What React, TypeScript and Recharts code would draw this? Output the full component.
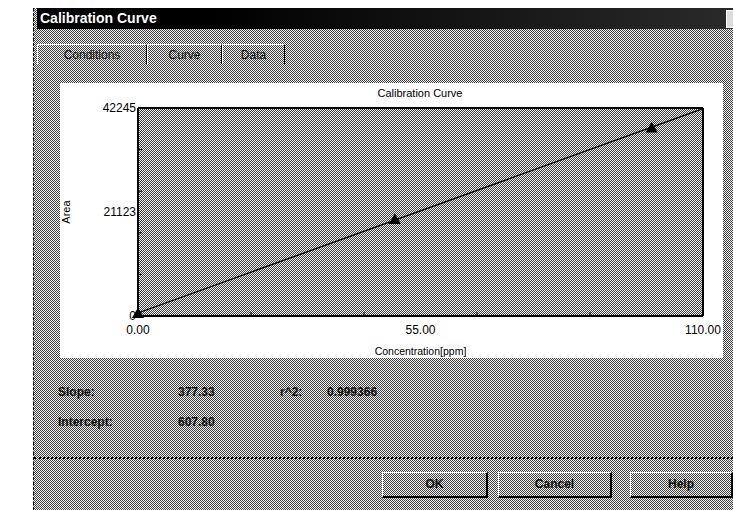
import { ComposedChart, Line, Scatter, XAxis, YAxis, CartesianGrid, Label } from "recharts";

const concentration = [0, 50, 100];
const area = [300, 19400, 38000];
const fitConcentration = [0, 110];
const fitArea = [608, 42114];

const xLabelTicks = [0, 55, 110];
const xMinorTicks = [0, 22, 44, 66, 88, 110];
const yLabelTicks = [0, 21123, 42245];
const yMinorTicks = [0, 8449, 16898, 25347, 33796, 42245];

const slope = "377.33";
const rSquared = "0.999366";
const intercept = "607.80";

const points = concentration.map((x, i) => ({ x, y: area[i] }));
const fit = fitConcentration.map((x, i) => ({ x, y: fitArea[i] }));
const xTicks = Array.from(new Set([...xMinorTicks, ...xLabelTicks])).sort((a, b) => a - b);
const yTicks = Array.from(new Set([...yMinorTicks, ...yLabelTicks])).sort((a, b) => a - b);

// scanned halftone look: diagonal dither, roughly 50% grey
const DITHER_PATH = "M0 0h1v1H0zM1 1h1v1H1zM2 2h1v1H2zM3 3h1v1H3zM2 0h1v1H2zM3 1h1v1H3zM0 2h1v1H0zM1 3h1v1H1z";
const DITHER =
  "url(\"data:image/svg+xml;utf8,<svg xmlns='http://www.w3.org/2000/svg' width='4' height='4'><path d='" +
  DITHER_PATH +
  "' fill='%23404040'/></svg>\")";

const CHART_FONT = "'Liberation Sans', Arial, sans-serif";
const DIALOG_FONT = "'Liberation Sans', Arial, sans-serif";
const X_MARGIN = 9;
const Y_MARGIN = 2;

function XTick(props: any) {
  const { x, y, payload } = props;
  const v = payload.value;
  const axisY = y - X_MARGIN;
  return (
    <g>
      {xMinorTicks.includes(v) && v !== 0 && v !== 110 && (
        <line x1={x} x2={x} y1={axisY} y2={axisY - 4} stroke="#000" />
      )}
      {xLabelTicks.includes(v) && (
        <text x={x} y={y} dy="0.71em" textAnchor="middle" fontSize={12} fontFamily={CHART_FONT} fill="#000">
          {v.toFixed(2)}
        </text>
      )}
    </g>
  );
}

function YTick(props: any) {
  const { x, y, payload } = props;
  const v = payload.value;
  const axisX = x + Y_MARGIN;
  return (
    <g>
      {yMinorTicks.includes(v) && v !== 0 && v !== 42245 && (
        <line x1={axisX} x2={axisX + 4} y1={y} y2={y} stroke="#000" />
      )}
      {yLabelTicks.includes(v) && (
        <text x={x} y={y} dy="0.355em" textAnchor="end" fontSize={12} fontFamily={CHART_FONT} fill="#000">
          {v}
        </text>
      )}
    </g>
  );
}

function Tab({ left, width, label }: { left: number; width: number; label: string }) {
  return (
    <div
      style={{
        position: "absolute",
        left,
        top: 44,
        width,
        height: 20,
        borderTop: "1px solid #fff",
        borderLeft: "1px solid #fff",
        borderRight: "1px solid #000",
        boxSizing: "border-box",
        textAlign: "center",
        fontFamily: DIALOG_FONT,
        fontSize: 12,
        lineHeight: "20px",
        color: "#111",
      }}
    >
      {label}
    </div>
  );
}

function Button({ left, width, label, isDefault }: { left: number; width: number; label: string; isDefault?: boolean }) {
  return (
    <div
      style={{
        position: "absolute",
        left,
        top: 472,
        width,
        height: 26,
        boxSizing: "border-box",
        border: isDefault ? "2px solid #000" : "none",
        borderTop: "1px solid #fff",
        borderLeft: "1px solid #fff",
        borderRight: "2px solid #000",
        borderBottom: "2px solid #000",
        textAlign: "center",
        fontFamily: DIALOG_FONT,
        fontWeight: "bold",
        fontSize: 12,
        lineHeight: "23px",
        color: "#111",
      }}
    >
      {label}
    </div>
  );
}

function Text({ left, top, children }: { left: number; top: number; children: string }) {
  return (
    <div
      style={{
        position: "absolute",
        left,
        top,
        fontFamily: DIALOG_FONT,
        fontWeight: "bold",
        fontSize: 12,
        lineHeight: "14px",
        color: "#111",
        whiteSpace: "nowrap",
      }}
    >
      {children}
    </div>
  );
}

export default function App() {
  return (
    <div style={{ position: "fixed", left: 0, top: 0, width: 733, height: 510, background: "#fff", overflow: "hidden" }}>
      {/* dialog body */}
      <div
        style={{
          position: "absolute",
          left: 33,
          top: 8,
          width: 700,
          height: 502,
          backgroundColor: "#f2f2f2",
          backgroundImage: DITHER,
          borderLeft: "1px dashed #000",
          boxSizing: "border-box",
        }}
      />
      {/* title bar */}
      <div
        style={{
          position: "absolute",
          left: 37,
          top: 8,
          width: 696,
          height: 21,
          background: "linear-gradient(90deg, #000 0%, #000 25%, #2a2a2a 100%)",
          color: "#fff",
          fontFamily: "'Liberation Sans Narrow', 'Liberation Sans', Arial, sans-serif",
          fontWeight: "bold",
          fontSize: 14,
          lineHeight: "21px",
          paddingLeft: 3,
          boxSizing: "border-box",
        }}
      >
        Calibration Curve
      </div>
      <div style={{ position: "absolute", left: 726, top: 10, width: 8, height: 16, background: "#ddd", border: "1px solid #fff" }} />

      <Tab left={37} width={110} label="Conditions" />
      <Tab left={147} width={75} label="Curve" />
      <Tab left={222} width={63} label="Data" />

      {/* chart panel */}
      <div style={{ position: "absolute", left: 60, top: 83, width: 663, height: 275, background: "#fff" }}>
        <div
          style={{
            position: "absolute",
            left: 78,
            width: 564,
            top: 3,
            textAlign: "center",
            fontFamily: CHART_FONT,
            fontSize: 11,
            lineHeight: "14px",
          }}
        >
          Calibration Curve
        </div>
        <ComposedChart width={663} height={275} margin={{ top: 25, right: 20, left: 0, bottom: 0 }}>
          <defs>
            <pattern id="dither" width={4} height={4} patternUnits="userSpaceOnUse">
              <rect width={4} height={4} fill="#f2f2f2" />
              <path d={DITHER_PATH} fill="#404040" />
            </pattern>
          </defs>
          <CartesianGrid fill="url(#dither)" horizontal={false} vertical={false} />
          <XAxis
            dataKey="x"
            type="number"
            domain={[0, 110]}
            ticks={xTicks}
            interval={0}
            tick={<XTick />}
            tickSize={0}
            tickMargin={X_MARGIN}
            tickLine={false}
            axisLine={{ stroke: "#000", strokeWidth: 2 }}
            height={42}
          >
            <Label
              value="Concentration[ppm]"
              position="insideBottom"
              offset={3}
              style={{ fontSize: 10.5, fontFamily: CHART_FONT, fill: "#000" }}
            />
          </XAxis>
          <XAxis
            xAxisId="top"
            orientation="top"
            type="number"
            domain={[0, 110]}
            allowDataOverflow
            ticks={xMinorTicks}
            interval={0}
            mirror
            height={1}
            tick={false}
            tickSize={4}
            tickLine={{ stroke: "#000" }}
            axisLine={{ stroke: "#000", strokeWidth: 2 }}
          />
          <YAxis
            dataKey="y"
            type="number"
            domain={[0, 42245]}
            ticks={yTicks}
            interval={0}
            tick={<YTick />}
            tickSize={0}
            tickMargin={Y_MARGIN}
            tickLine={false}
            axisLine={{ stroke: "#000", strokeWidth: 2 }}
            width={78}
          >
            <Label
              value="Area"
              angle={-90}
              position="insideLeft"
              offset={6}
              style={{ fontSize: 11, fontFamily: CHART_FONT, fill: "#000", textAnchor: "middle" }}
            />
          </YAxis>
          <YAxis
            yAxisId="right"
            orientation="right"
            type="number"
            domain={[0, 42245]}
            allowDataOverflow
            ticks={yMinorTicks}
            interval={0}
            mirror
            width={1}
            tick={false}
            tickSize={4}
            tickLine={{ stroke: "#000" }}
            axisLine={{ stroke: "#000", strokeWidth: 2 }}
          />
          <Line
            data={fit}
            dataKey="y"
            type="linear"
            stroke="#000"
            strokeWidth={1.3}
            dot={false}
            activeDot={false}
            isAnimationActive={false}
          />
          <Scatter data={points} dataKey="y" shape="triangle" fill="#000" isAnimationActive={false} />
        </ComposedChart>
      </div>

      <Text left={58} top={385}>Slope:</Text>
      <Text left={178} top={385}>{slope}</Text>
      <Text left={280} top={385}>r^2:</Text>
      <Text left={327} top={385}>{rSquared}</Text>
      <Text left={58} top={415}>Intercept:</Text>
      <Text left={178} top={415}>{intercept}</Text>

      <div style={{ position: "absolute", left: 34, top: 457, width: 699, height: 0, borderTop: "2px dotted #000" }} />

      <Button left={382} width={106} label="OK" isDefault />
      <Button left={498} width={114} label="Cancel" />
      <Button left={630} width={103} label="Help" />
    </div>
  );
}
